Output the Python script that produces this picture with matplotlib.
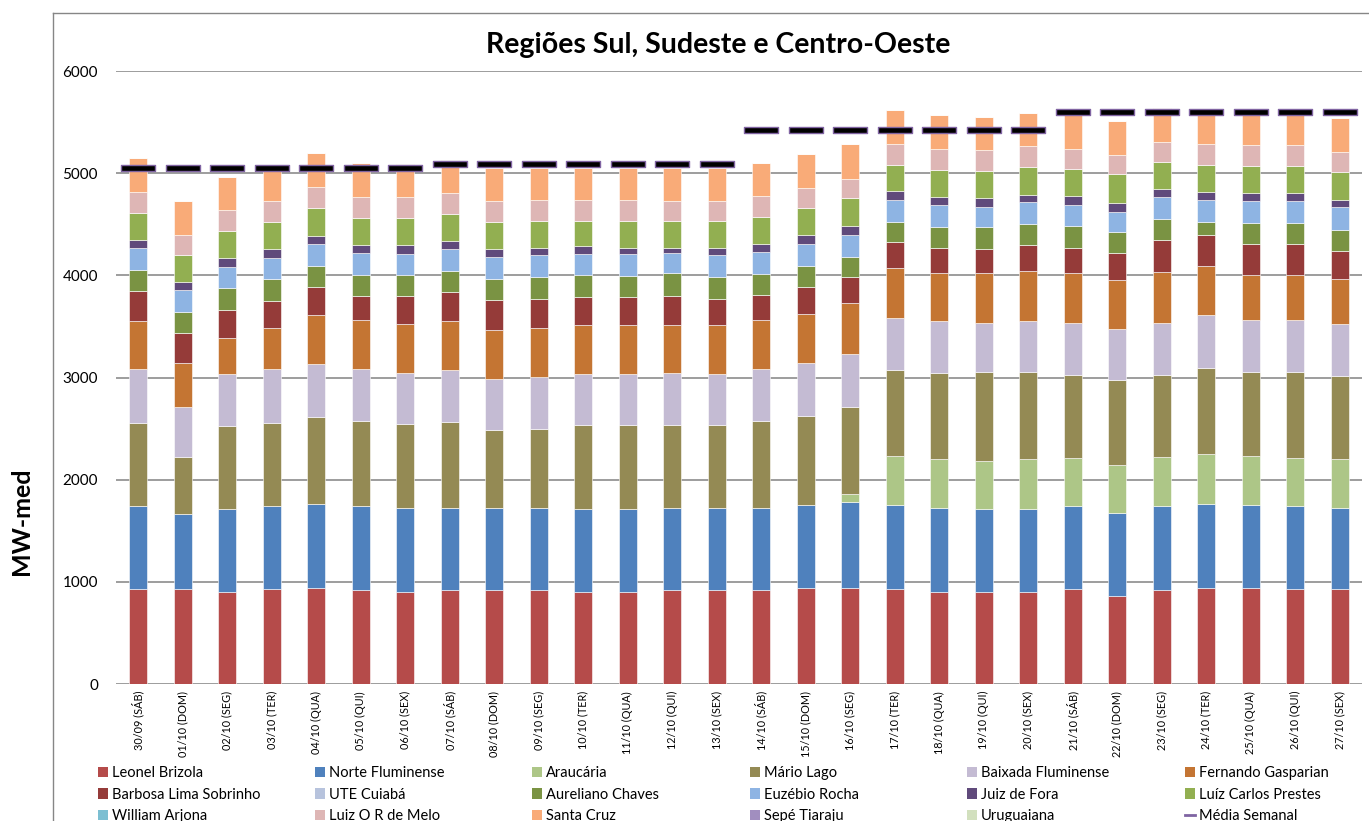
import matplotlib
matplotlib.use('Agg')
import matplotlib.pyplot as plt
import numpy as np
from matplotlib.patches import Patch
from matplotlib.lines import Line2D
from matplotlib.path import Path

plt.rcParams['font.family'] = ['Lato', 'DejaVu Sans']

categories = ['30/09 (SÁB)', '01/10 (DOM)', '02/10 (SEG)', '03/10 (TER)', '04/10 (QUA)',
              '05/10 (QUI)', '06/10 (SEX)', '07/10 (SÁB)', '08/10 (DOM)', '09/10 (SEG)',
              '10/10 (TER)', '11/10 (QUA)', '12/10 (QUI)', '13/10 (SEX)', '14/10 (SÁB)',
              '15/10 (DOM)', '16/10 (SEG)', '17/10 (TER)', '18/10 (QUA)', '19/10 (QUI)',
              '20/10 (SEX)', '21/10 (SÁB)', '22/10 (DOM)', '23/10 (SEG)', '24/10 (TER)',
              '25/10 (QUA)', '26/10 (QUI)', '27/10 (SEX)']

leonel_brizola = [931, 931, 902, 931, 941, 918, 902, 918, 918, 918, 902, 902, 918, 918,
                  918, 941, 941, 931, 905, 905, 905, 931, 866, 918, 941, 941, 931, 931]
norte_fluminense = [808, 736, 814, 808, 824, 821, 824, 808, 808, 808, 814, 814, 808, 808,
                    808, 814, 837, 824, 821, 811, 811, 811, 810, 824, 824, 814, 811, 795]
araucaria = [0, 0, 0, 0, 0, 0, 0, 0, 0, 0, 0, 0, 0, 0,
             0, 0, 78, 480, 473, 467, 483, 471, 471, 480, 487, 480, 471, 473]
mario_lago = [820, 555, 807, 820, 849, 836, 823, 836, 761, 771, 820, 820, 810, 810,
              849, 872, 860, 841, 841, 870, 854, 814, 830, 805, 840, 818, 840, 818]
baixada_fluminense = [523, 493, 507, 523, 517, 507, 494, 507, 503, 506, 494, 494, 507, 494,
                      504, 517, 517, 507, 510, 484, 497, 510, 494, 510, 520, 510, 510, 507]
fernando_gasparian = [471, 429, 353, 403, 481, 481, 481, 481, 475, 482, 481, 481, 468, 481,
                      481, 481, 494, 487, 468, 481, 494, 481, 482, 494, 481, 442, 442, 442]
barbosa_lima = [298, 288, 278, 265, 278, 239, 278, 288, 298, 288, 278, 278, 291, 262,
                252, 265, 252, 252, 252, 236, 252, 252, 265, 311, 305, 301, 301, 275]
ute_cuiaba = [0] * 28
aureliano_chaves = [203, 206, 216, 216, 203, 203, 203, 203, 203, 206, 216, 200, 216, 206,
                    203, 203, 203, 200, 200, 216, 203, 216, 203, 206, 124, 203, 203, 206]
euzebio_rocha = [216, 216, 203, 206, 216, 216, 203, 216, 216, 216, 203, 219, 203, 216,
                 216, 216, 216, 219, 219, 196, 216, 203, 203, 216, 219, 219, 219, 219]
juiz_de_fora = [75, 76, 85, 85, 72, 72, 85, 75, 75, 75, 75, 62, 49, 75,
                75, 89, 88, 89, 75, 89, 76, 85, 85, 79, 76, 76, 76, 72]
luiz_carlos_prestes = [266, 265, 265, 262, 282, 265, 265, 265, 262, 265, 252, 265, 265, 265,
                       269, 265, 269, 249, 265, 265, 265, 269, 281, 265, 262, 265, 265, 269]
william_arjona = [0] * 28
luiz_or_de_melo = [206, 203, 210, 209, 203, 210, 210, 207, 209, 203, 203, 203, 193, 193,
                   202, 193, 189, 209, 203, 203, 206, 189, 190, 200, 209, 202, 202, 202]
santa_cruz = [327, 330, 327, 292, 327, 327, 322, 327, 324, 317, 317, 317, 327, 327,
              318, 327, 341, 327, 334, 330, 327, 358, 330, 333, 307, 309, 309, 328]
sepe_tiaraju = [0] * 28
uruguaiana = [0] * 28
media_semanal = [5050] * 7 + [5092] * 7 + [5419] * 7 + [5596] * 7

series = [
    ('Leonel Brizola', leonel_brizola, '#B54B4A'),
    ('Norte Fluminense', norte_fluminense, '#4F81BD'),
    ('Araucária', araucaria, '#ADC687'),
    ('Mário Lago', mario_lago, '#948A54'),
    ('Baixada Fluminense', baixada_fluminense, '#C4BBD3'),
    ('Fernando Gasparian', fernando_gasparian, '#C47533'),
    ('Barbosa Lima Sobrinho', barbosa_lima, '#953B39'),
    ('UTE Cuiabá', ute_cuiaba, '#B7C3DD'),
    ('Aureliano Chaves', aureliano_chaves, '#7A9343'),
    ('Euzébio Rocha', euzebio_rocha, '#8EB4E3'),
    ('Juiz de Fora', juiz_de_fora, '#604A7B'),
    ('Luíz Carlos Prestes', luiz_carlos_prestes, '#92AF51'),
    ('William Arjona', william_arjona, '#7CBFD2'),
    ('Luiz O R de Melo', luiz_or_de_melo, '#DEB6B5'),
    ('Santa Cruz', santa_cruz, '#F9AB78'),
    ('Sepé Tiaraju', sepe_tiaraju, '#A18EBF'),
    ('Uruguaiana', uruguaiana, '#D2E0BE'),
]

W, H = 1369, 821
fig = plt.figure(figsize=(W / 100, H / 100), dpi=100)
ax = fig.add_axes([116 / W, 1 - 684 / H, (1362 - 116) / W, (684 - 71) / H])

x = np.arange(len(categories))
bottom = np.zeros(len(categories))
for name, vals, color in series:
    v = np.array(vals, dtype=float)
    ax.bar(x, v, 0.41, bottom=bottom, color=color, edgecolor='white', linewidth=0.4, zorder=2)
    bottom += v

dash = Path([(-17, -3.4), (17, -3.4), (17, 3.4), (-17, 3.4), (-17, -3.4)],
            [Path.MOVETO, Path.LINETO, Path.LINETO, Path.LINETO, Path.CLOSEPOLY])
ax.plot(x, media_semanal, linestyle='none', marker=dash, markersize=25,
        markerfacecolor='black', markeredgecolor='#8064A2', markeredgewidth=1.0, zorder=4)

ax.set_xlim(-0.5, len(categories) - 0.5)
ax.set_ylim(0, 6000)
ax.set_yticks(range(0, 6001, 1000))
ax.set_yticklabels([str(v) for v in range(0, 6001, 1000)], fontsize=11)
ax.set_xticks(x)
ax.set_xticklabels(categories, rotation=90, fontsize=7.8)
ax.tick_params(axis='y', length=0, pad=13)
ax.tick_params(axis='x', length=0, pad=5)
ax.yaxis.grid(True, color='#8C8C8C', linewidth=1.2)
ax.set_axisbelow(True)
for s in ax.spines.values():
    s.set_visible(False)

fig.text(718 / W, 1 - 45 / H, 'Regiões Sul, Sudeste e Centro-Oeste', fontsize=20.5,
         fontweight='bold', ha='center', va='center')
fig.text(22 / W, 1 - 521 / H, 'MW-med', fontsize=18, fontweight='bold', rotation=90,
         ha='center', va='center')

# outer chart frame
fig.add_artist(Line2D([53 / W, 53 / W], [0, 1 - 13 / H], color='#868686', lw=1.0))
fig.add_artist(Line2D([53 / W, 1], [1 - 13 / H, 1 - 13 / H], color='#868686', lw=1.0))

# legend: 6 columns, row-major
handles = [Patch(facecolor=c, edgecolor='none') for _, _, c in series]
labels = [n for n, _, _ in series]
handles.append(Line2D([], [], color='#7F64A2', lw=2))
labels.append('Média Semanal')
col_x = [98, 315, 532, 750, 967, 1185]
for c in range(6):
    idx = [c, c + 6, c + 12]
    fig.legend([handles[i] for i in idx], [labels[i] for i in idx],
               loc='upper left', bbox_to_anchor=(col_x[c] / W, 1 - 766 / H),
               frameon=False, fontsize=10.5, borderpad=0, borderaxespad=0,
               handlelength=0.7, handleheight=0.7, handletextpad=0.25,
               labelspacing=0.52)

fig.savefig('out.png', dpi=100)
